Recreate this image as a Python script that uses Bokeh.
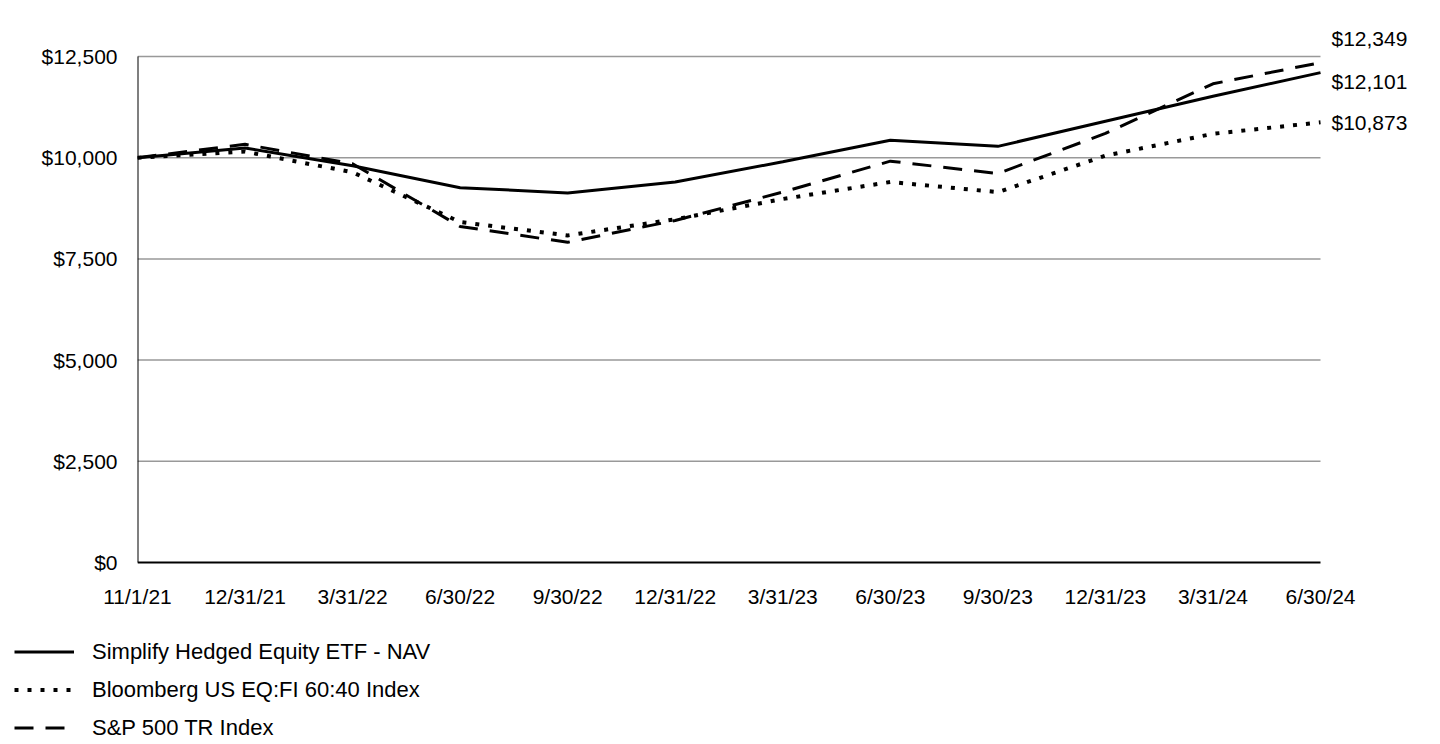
from bokeh.plotting import figure
from bokeh.models import (Range1d, FixedTicker, NumeralTickFormatter, Legend, LegendItem,
                          ColumnDataSource)
from bokeh.core.properties import value
from bokeh.embed import file_html
from bokeh.resources import INLINE

# ---- data ----
dates = ["11/1/21", "12/31/21", "3/31/22", "6/30/22", "9/30/22", "12/31/22",
         "3/31/23", "6/30/23", "9/30/23", "12/31/23", "3/31/24", "6/30/24"]
nav = [10000, 10240, 9800, 9260, 9130, 9400, 9900, 10430, 10280, 10900, 11520, 12101]
bbg = [10000, 10150, 9640, 8410, 8080, 8480, 8980, 9400, 9150, 10050, 10590, 10873]
spx = [10000, 10330, 9850, 8300, 7910, 8450, 9150, 9914, 9610, 10600, 11826, 12349]
series_names = ["Simplify Hedged Equity ETF - NAV", "Bloomberg US EQ:FI 60:40 Index", "S&P 500 TR Index"]
y_ticks = [0, 2500, 5000, 7500, 10000, 12500]

FONT = "Liberation Sans"
FS = "21px"
xs = list(range(len(dates)))
last = len(dates) - 1
series = [nav, bbg, spx]
styles = [dict(line_width=3), dict(line_width=4, line_dash="4 9"), dict(line_width=3, line_dash="19 12")]

# geometry: data span 0..last occupies 1183 px, 0..12500 occupies 506 px
SPAN_PX = 1183
FRAME_W = 1283
x_end = last * FRAME_W / SPAN_PX
y_scale = 506 / y_ticks[-1]
TOP_PX, BOT_PX = 40, 2
y_lo = -BOT_PX / y_scale
y_hi = y_ticks[-1] + TOP_PX / y_scale

p = figure(frame_width=FRAME_W, frame_height=506 + TOP_PX + BOT_PX,
           output_backend="svg", toolbar_location=None,
           x_range=Range1d(0, x_end), y_range=Range1d(y_lo, y_hi),
           min_border_left=137, min_border_right=10, min_border_top=56 - TOP_PX,
           min_border_bottom=60,
           background_fill_color="white", border_fill_color="white")
p.outline_line_color = None
p.xgrid.grid_line_color = None
p.ygrid.grid_line_color = None

# gridlines limited to the data span
n = len(y_ticks) - 1
p.segment(x0=[0] * n, x1=[last] * n, y0=y_ticks[1:], y1=y_ticks[1:],
          line_color="#999999", line_width=1.5)
# axis lines along the data span
p.segment(x0=[0], x1=[last], y0=[0], y1=[0], line_color="black", line_width=2)
p.segment(x0=[0], x1=[0], y0=[0], y1=[y_ticks[-1]], line_color="black", line_width=2)

# axes (labels only)
p.yaxis.ticker = FixedTicker(ticks=y_ticks)
p.yaxis.formatter = NumeralTickFormatter(format="$0,0")
p.xaxis.ticker = FixedTicker(ticks=xs)
p.xaxis.major_label_overrides = {i: d for i, d in enumerate(dates)}
for ax in (p.xaxis, p.yaxis):
    ax.axis_line_color = None
    ax.major_tick_line_color = None
    ax.minor_tick_line_color = None
    ax.major_label_text_font = FONT
    ax.major_label_text_font_size = FS
    ax.major_label_text_color = "black"
p.yaxis.major_label_standoff = 14
p.xaxis.major_label_standoff = 14

for s, st in zip(series, styles):
    p.line(xs, s, line_color="black", **st)

# end labels
end_vals = [spx[last], nav[last], bbg[last]]
src = ColumnDataSource(dict(x=[last] * 3, y=end_vals,
                            t=["${:,.0f}".format(v) for v in end_vals],
                            dy=[-24, 9, 0]))
p.text(x="x", y="y", text="t", source=src, x_offset=11, y_offset="dy",
       text_font=value(FONT), text_font_size=FS, text_color="black",
       text_baseline="middle", text_align="left")

# legend strip below the chart (its lines lie outside its ranges; only the legend shows)
lg = figure(width=1430, height=120, output_backend="svg", toolbar_location=None,
            x_range=Range1d(-3, -2), y_range=Range1d(-3, -2), min_border=0,
            x_axis_type=None, y_axis_type=None,
            background_fill_color="white", border_fill_color="white")
lg.outline_line_color = None
lg.grid.grid_line_color = None
items = []
for name, s, st in zip(series_names, series, styles):
    r = lg.line(xs, s, line_color="black", **st)
    items.append(LegendItem(label=name, renderers=[r]))
legend = Legend(items=items, location=(14, 3.5), orientation="vertical",
                glyph_width=60, glyph_height=25, label_height=25, spacing=12,
                label_standoff=18, padding=0, margin=0,
                label_text_font=FONT, label_text_font_size="22px", label_text_color="black",
                border_line_color=None, background_fill_alpha=0)
lg.add_layout(legend, "center")

open("out.html", "w").write(file_html([p, lg], INLINE))
